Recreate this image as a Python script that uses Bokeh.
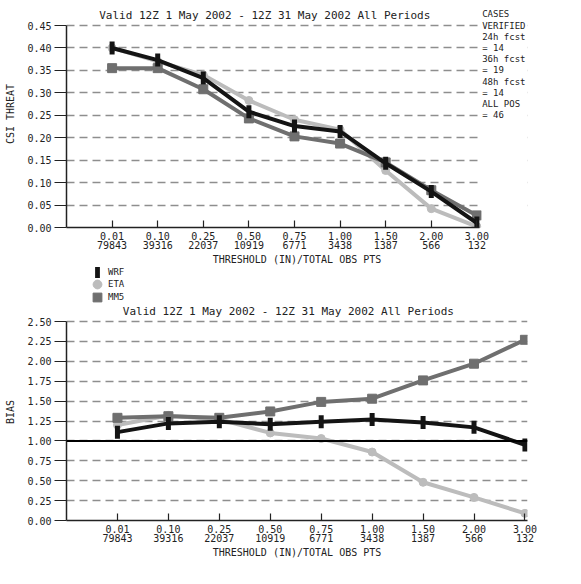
import math
from bokeh.plotting import figure
from bokeh.models import (Range1d, FixedTicker, PrintfTickFormatter, Label, Span,
                          Legend, LegendItem, ColumnDataSource, BoxAnnotation)
from bokeh.layouts import column
from bokeh.embed import file_html
from bokeh.resources import INLINE

# ---- data ----
thresholds = ["0.01", "0.10", "0.25", "0.50", "0.75", "1.00", "1.50", "2.00", "3.00"]
obs_counts = ["79843", "39316", "22037", "10919", "6771", "3438", "1387", "566", "132"]

csi_wrf = [0.400, 0.373, 0.333, 0.258, 0.226, 0.214, 0.143, 0.080, 0.010]
csi_eta = [0.400, 0.370, 0.340, 0.283, 0.240, 0.218, 0.127, 0.042, 0.002]
csi_mm5 = [0.355, 0.355, 0.308, 0.243, 0.203, 0.187, 0.145, 0.083, 0.027]

bias_wrf = [1.11, 1.22, 1.24, 1.21, 1.24, 1.27, 1.23, 1.17, 0.95]
bias_eta = [1.20, 1.32, 1.27, 1.10, 1.03, 0.86, 0.48, 0.29, 0.09]
bias_mm5 = [1.29, 1.31, 1.29, 1.37, 1.49, 1.53, 1.76, 1.97, 2.27]

csi_ticks = [0.00, 0.05, 0.10, 0.15, 0.20, 0.25, 0.30, 0.35, 0.40, 0.45]
bias_ticks = [0.00, 0.25, 0.50, 0.75, 1.00, 1.25, 1.50, 1.75, 2.00, 2.25, 2.50]

title_text = "Valid 12Z  1 May 2002 - 12Z 31 May 2002 All Periods"
cases_lines = [" CASES", "VERIFIED", "24h fcst", "=   14", "36h fcst", "=   19",
               "48h fcst", "=   14", "ALL POS", "=   46"]
cases_rows = [0.475, 0.45, 0.425, 0.40, 0.375, 0.35, 0.325, 0.30, 0.275, 0.25]
series_names = ["WRF", "ETA", "MM5"]

FONT = "DejaVu Sans Mono"
TXT = "#222222"
C_WRF = "#141414"
C_ETA = "#bcbcbc"
C_MM5 = "#6f6f6f"

xs = list(range(1, len(thresholds) + 1))
x_labels = {x: f"{t}\n{n}" for x, t, n in zip(xs, thresholds, obs_counts)}
X_END = 9.05          # right end of the chart area
FRAME_W = 461         # chart area width in px
W = 581
LEFT = 66


def make_fig(height, y_end, y_top, ticks, y_label, border_bottom, border_right):
    frame_w = W - LEFT - border_right
    x_end = X_END * frame_w / FRAME_W
    p = figure(width=W, height=height, x_range=Range1d(0, x_end),
               y_range=Range1d(0, y_top), output_backend="svg",
               toolbar_location=None, min_border_left=LEFT,
               min_border_right=border_right, min_border_top=0,
               min_border_bottom=border_bottom)
    p.outline_line_color = None
    p.background_fill_color = "white"
    p.border_fill_color = "white"
    p.xgrid.grid_line_color = None
    p.ygrid.grid_line_color = "#8e8e8e"
    p.ygrid.grid_line_dash = "8 5"
    p.ygrid.grid_line_width = 1.6
    p.ygrid.ticker = FixedTicker(ticks=ticks)
    p.yaxis.ticker = FixedTicker(ticks=ticks)
    p.yaxis.bounds = (0, y_end)
    p.xaxis.bounds = (0, X_END)
    p.yaxis.formatter = PrintfTickFormatter(format="%.2f")
    p.xaxis.ticker = FixedTicker(ticks=xs)
    p.xaxis.major_label_overrides = x_labels
    p.xaxis.axis_label = "THRESHOLD (IN)/TOTAL OBS PTS"
    p.yaxis.axis_label = y_label
    for ax in (p.xaxis, p.yaxis):
        ax.axis_line_color = "#222222"
        ax.axis_line_width = 1.5
        ax.major_tick_line_color = "#222222"
        ax.major_tick_line_width = 1.2
        ax.minor_tick_line_color = None
        ax.major_label_text_font = FONT
        ax.major_label_text_font_size = "10px"
        ax.major_label_text_color = TXT
        ax.axis_label_text_font = FONT
        ax.axis_label_text_font_size = "10px"
        ax.axis_label_text_font_style = "normal"
        ax.axis_label_text_color = TXT
    p.xaxis.major_label_text_line_height = 0.85
    p.xaxis.major_tick_in = 7
    p.xaxis.major_tick_out = 0
    p.xaxis.major_label_standoff = 3
    p.xaxis.axis_label_standoff = 0
    p.yaxis.major_tick_in = 0
    p.yaxis.major_tick_out = 12
    p.yaxis.major_label_standoff = 3
    p.yaxis.axis_label_standoff = 8
    p.add_layout(Label(x=4.42, y=y_end, y_offset=10, text=title_text,
                       text_align="center", text_baseline="middle",
                       text_font=FONT, text_font_size="11px", text_color=TXT))
    return p


def draw_series(p, wrf, eta, mm5):
    src = ColumnDataSource(dict(x=xs, wrf=wrf, eta=eta, mm5=mm5))
    p.line("x", "eta", source=src, line_color=C_ETA, line_width=4)
    p.scatter("x", "eta", source=src, marker="circle", size=8,
              fill_color=C_ETA, line_color=C_ETA)
    p.line("x", "mm5", source=src, line_color=C_MM5, line_width=4)
    p.scatter("x", "mm5", source=src, marker="square", size=9,
              fill_color=C_MM5, line_color=C_MM5)
    p.line("x", "wrf", source=src, line_color=C_WRF, line_width=4)
    p.scatter("x", "wrf", source=src, marker="dash", angle=math.pi / 2,
              size=13, line_color=C_WRF, line_width=5)


# ---- top: CSI ----
CSI_END = 0.45
csi_px = 202 / CSI_END
p1 = make_fig(267, CSI_END, 227 / csi_px, csi_ticks, "CSI THREAT", 40, 0)
draw_series(p1, csi_wrf, csi_eta, csi_mm5)
p1.add_layout(BoxAnnotation(left=X_END + 0.05, fill_color="white", fill_alpha=1,
                            line_color=None))
for txt, yy in zip(cases_lines, cases_rows):
    p1.add_layout(Label(x=X_END, y=yy, x_offset=3, text=txt, text_align="left",
                        text_baseline="middle", text_font=FONT,
                        text_font_size="9px", text_color=TXT))

# ---- legend strip ----
pl = figure(width=W, height=36, x_range=Range1d(0, 1), y_range=Range1d(0, 1),
            x_axis_type=None, y_axis_type=None, output_backend="svg",
            toolbar_location=None, min_border=0)
pl.outline_line_color = None
pl.grid.visible = False
dummy = ColumnDataSource(dict(x=[float("nan")], y=[float("nan")]))
l_wrf = pl.rect("x", "y", width=1, height=1, source=dummy,
                fill_color=C_WRF, line_color=None)
l_eta = pl.scatter("x", "y", source=dummy, marker="circle", size=9,
                   fill_color=C_ETA, line_color=C_ETA)
l_mm5 = pl.scatter("x", "y", source=dummy, marker="square", size=9,
                   fill_color=C_MM5, line_color=C_MM5)
legend_specs = [  # (glyph w, glyph h, location, standoff)
    (6, 15, (28, 24), 8),
    (22, 22, (20, 8), 0),
    (22, 22, (20, -5), 0),
]
for name, rend, (gw, gh, loc, so) in zip(series_names, [l_wrf, l_eta, l_mm5],
                                         legend_specs):
    lg = Legend(items=[LegendItem(label=name, renderers=[rend])],
                location=loc, glyph_width=gw, glyph_height=gh,
                label_height=gh, label_text_font=FONT,
                label_text_font_size="9px", label_text_color=TXT,
                spacing=0, padding=0, margin=0, label_standoff=so,
                border_line_color=None, background_fill_alpha=0)
    pl.add_layout(lg, "center")

# ---- bottom: BIAS ----
BIAS_END = 2.50
bias_px = 199 / BIAS_END
p2 = make_fig(281, BIAS_END, 217 / bias_px, bias_ticks, "BIAS", 64, 54)
p2.add_layout(Span(location=1.0, dimension="width", line_color="black",
                   line_width=2))
draw_series(p2, bias_wrf, bias_eta, bias_mm5)

layout = column(p1, pl, p2, spacing=0)
open("out.html", "w").write(file_html(layout, INLINE))
